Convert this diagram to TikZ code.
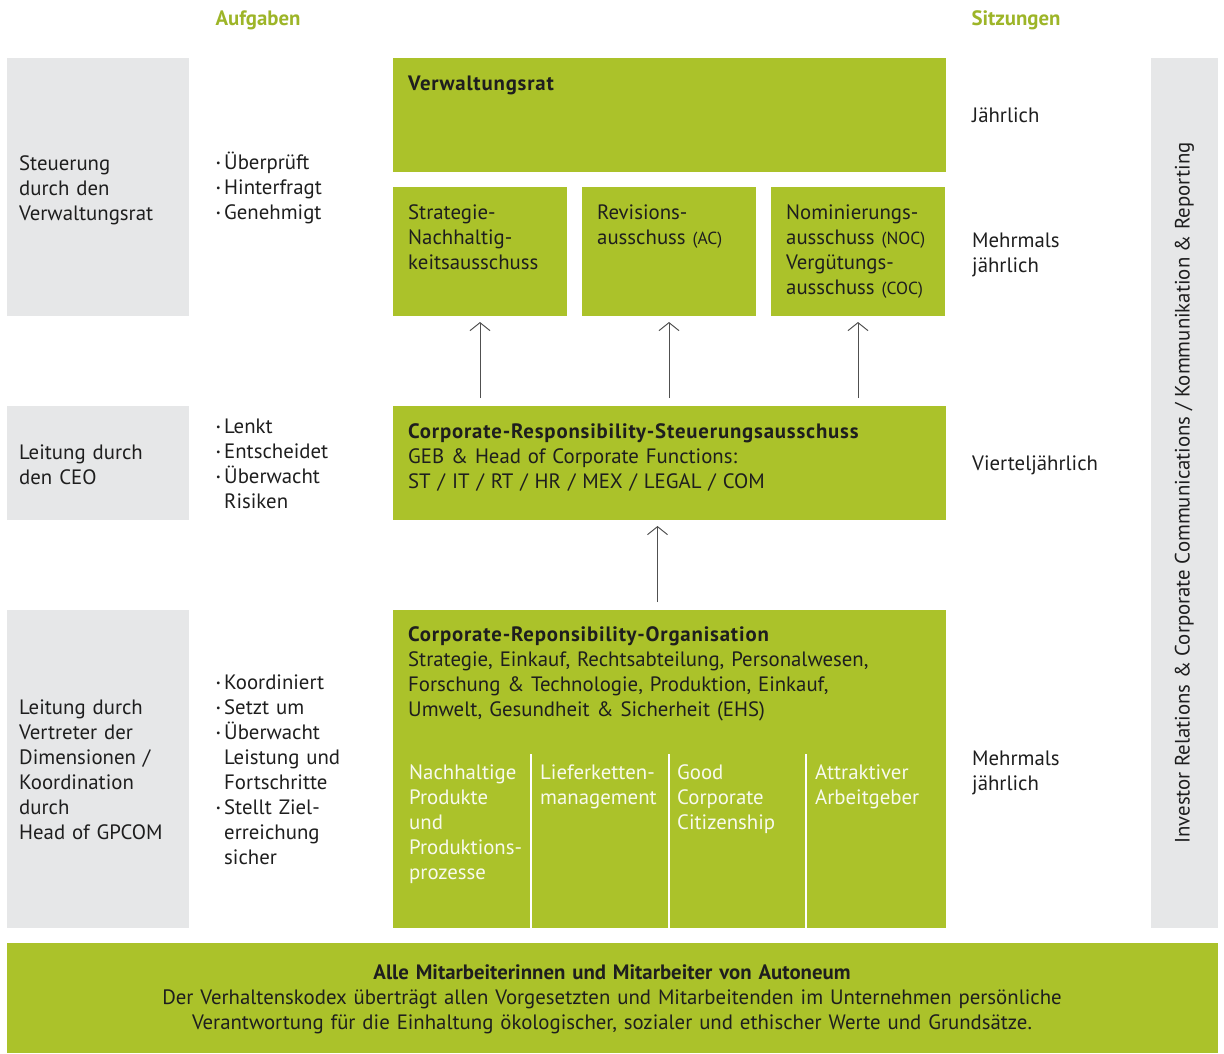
\documentclass[tikz,border=0pt]{standalone}
\usepackage{fontspec}
\setmainfont{PT Sans}
\usepackage{xcolor}
\usepackage{tikz}
\usetikzlibrary{positioning,calc,arrows.meta}

\definecolor{crgreen}{RGB}{171,194,42}
\definecolor{crgray}{RGB}{230,231,232}
\definecolor{crtext}{RGB}{30,30,30}
\definecolor{crhead}{RGB}{157,181,40}
\definecolor{crarrow}{RGB}{80,80,80}

\newcommand{\blt}{\makebox[8pt][l]{\raisebox{3pt}{\fontsize{10}{10}\selectfont\textbullet}}}
\newcommand{\ind}{\hspace*{8pt}}
\newcommand{\sml}[1]{{\fontsize{17.5}{25}\selectfont #1}}
\newcommand{\boxhead}[1]{{\bfseries\addfontfeature{LetterSpace=4}#1}}

\tikzset{
    greenbox/.style={fill=crgreen, draw=none, inner sep=0pt, outer sep=0pt, anchor=north west},
    graybox/.style={fill=crgray, draw=none, inner sep=0pt, outer sep=0pt, anchor=north west},
    txt/.style={anchor=base west, inner sep=0pt, align=left, text width=#1, text=crtext,
        font=\fontsize{20.8}{25}\selectfont},
    txt/.default=170pt,
    wtxt/.style={txt=#1, text=white!92!crgreen},
    head/.style={anchor=base, inner sep=0pt, text=crhead, font=\fontsize{20.8}{25}\selectfont\bfseries},
    arr/.style={draw=crarrow, line width=1pt, -{Straight Barb[length=8pt,width=20pt]},
        shorten <=8pt, shorten >=6pt}
}

\begin{document}
\begin{tikzpicture}[x=1pt, y=-1pt]
    \useasboundingbox (0,0) rectangle (1224,1053);

    % Column heads
    \node[head] (aufg) at (258,25) {Aufgaben};
    \node[head] (sitz) at (1016,25) {Sitzungen};

    % Gray side boxes
    \node[graybox, minimum width=182pt, minimum height=258pt] (lvr) at (7,58) {};
    \node[graybox, minimum width=182pt, minimum height=114pt] (lceo) at (7,406) {};
    \node[graybox, minimum width=182pt, minimum height=318pt] (lgp) at (7,610) {};
    \node[graybox, minimum width=67pt, minimum height=870pt] (irc) at (1151,58) {};

    \node[txt] (lvrt) at (19,170) {Steuerung\\durch den\\Verwaltungsrat};
    \node[txt] (lceot) at (19,459) {Leitung durch\\den CEO};
    \node[txt] (lgpt) at (19,714) {Leitung durch\\Vertreter der\\Dimensionen /\\Koordination\\durch\\Head of GPCOM};
    \node[rotate=90, inner sep=0pt, text=crtext, font=\fontsize{20.8}{25}\selectfont] (irct) at (irc.center)
        {Investor Relations \& Corporate Communications / Kommunikation \& Reporting};

    % Aufgaben
    \node[txt] (avr) at (216,169) {\blt Überprüft\\\blt Hinterfragt\\\blt Genehmigt};
    \node[txt] (aceo) at (216,433) {\blt Lenkt\\\blt Entscheidet\\\blt Überwacht\\\ind Risiken};
    \node[txt] (agp) at (216,689) {\blt Koordiniert\\\blt Setzt um\\\blt Überwacht\\\ind Leistung und\\\ind Fortschritte\\\blt Stellt Ziel-\\\ind erreichung\\\ind sicher};

    % Verwaltungsrat
    \node[greenbox, minimum width=553pt, minimum height=114pt] (vr) at (393,58) {};
    \node[txt=300pt] (vrt) at (408,90) {\boxhead{Verwaltungsrat}};

    % Committees
    \node[greenbox, minimum width=174pt, minimum height=129pt] (sk) at (393,187) {};
    \node[greenbox, minimum width=174pt, minimum height=129pt] (rev) at (582,187) {};
    \node[greenbox, minimum width=174pt, minimum height=129pt] (noc) at (771,187) {};
    \node[txt=165pt] (skt) at (408,219) {Strategie-\\Nachhaltig-\\keitsausschuss};
    \node[txt=165pt] (revt) at (597,219) {Revisions-\\ausschuss \sml{(AC)}};
    \node[txt=165pt] (noct) at (786,219) {Nominierungs-\\ausschuss \sml{(NOC)}\\Vergütungs-\\ausschuss \sml{(COC)}};

    % CR steering committee
    \node[greenbox, minimum width=553pt, minimum height=114pt] (crs) at (393,406) {};
    \node[txt=530pt] (crst) at (408,438) {\boxhead{Corporate-Responsibility-Steuerungsausschuss}\\GEB \& Head of Corporate Functions:\\ST / IT / RT / HR / MEX / LEGAL / COM};

    % CR organisation
    \node[greenbox, minimum width=553pt, minimum height=318pt] (org) at (393,610) {};
    \node[txt=530pt] (orgt) at (408,641) {\boxhead{Corporate-Reponsibility-Organisation}\\Strategie, Einkauf, Rechtsabteilung, Personalwesen,\\Forschung \& Technologie, Produktion, Einkauf,\\Umwelt, Gesundheit \& Sicherheit (EHS)};
    \foreach \x in {531,669,806} {
        \draw[white, line width=1.2pt] (\x,754) -- (\x,928);
    }
    \node[wtxt=125pt] (d1) at (409,779) {Nachhaltige\\Produkte\\und\\Produktions-\\prozesse};
    \node[wtxt=130pt] (d2) at (540,779) {Lieferketten-\\management};
    \node[wtxt=130pt] (d3) at (677,779) {Good\\Corporate\\Citizenship};
    \node[wtxt=130pt] (d4) at (815,779) {Attraktiver\\Arbeitgeber};

    % Sitzungen
    \node[txt] (s1) at (972,122) {Jährlich};
    \node[txt] (s2) at (972,247) {Mehrmals\\jährlich};
    \node[txt] (s3) at (972,470) {Vierteljährlich};
    \node[txt] (s4) at (972,765) {Mehrmals\\jährlich};

    % Arrows
    \draw[arr] (crs.north -| sk.south) -- (sk.south);
    \draw[arr] (crs.north -| rev.south) -- (rev.south);
    \draw[arr] (crs.north -| noc.south) -- (noc.south);
    \draw[arr] ($(org.north)+(-12,0)$) -- ($(crs.south)+(-12,0)$);

    % All employees
    \node[greenbox, minimum width=1211pt, minimum height=110pt] (all) at (7,943) {};
    \node[anchor=base, inner sep=0pt, align=center, text width=1180pt, text=crtext, font=\fontsize{20.8}{25}\selectfont] (allt) at (612,979)
        {\textbf{Alle Mitarbeiterinnen und Mitarbeiter von Autoneum}\\Der Verhaltenskodex überträgt allen Vorgesetzten und Mitarbeitenden im Unternehmen persönliche\\Verantwortung für die Einhaltung ökologischer, sozialer und ethischer Werte und Grundsätze.};
\end{tikzpicture}
\end{document}
